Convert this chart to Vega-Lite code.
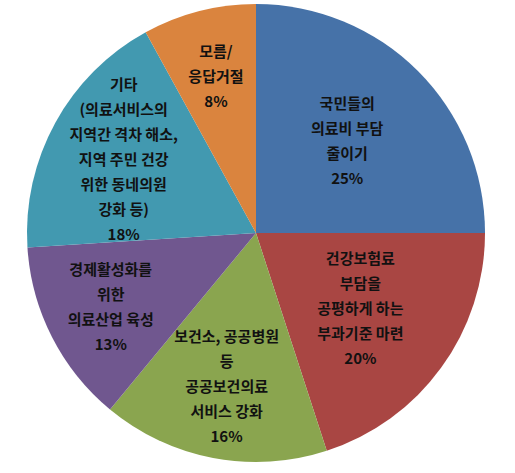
{
  "$schema": "https://vega.github.io/schema/vega-lite/v6.json",
  "width": 512,
  "height": 466,
  "padding": 0,
  "autosize": "none",
  "background": "white",
  "view": {"stroke": null},
  "config": {
    "text": {
      "lineBreak": "\n",
      "lineHeight": 25,
      "font": "Noto Sans CJK KR",
      "fontSize": 15,
      "fontWeight": "bold",
      "color": "#111111",
      "align": "center",
      "baseline": "middle"
    }
  },
  "data": {
    "values": [
      {"order": 1, "item": "국민들의 의료비 부담 줄이기", "label": "국민들의\n의료비 부담\n줄이기", "share": 25},
      {"order": 2, "item": "건강보험료 부담을 공평하게 하는 부과기준 마련", "label": "건강보험료\n부담을\n공평하게 하는\n부과기준 마련", "share": 20},
      {"order": 3, "item": "보건소, 공공병원 등 공공보건의료 서비스 강화", "label": "보건소, 공공병원\n등\n공공보건의료\n서비스 강화", "share": 16},
      {"order": 4, "item": "경제활성화를 위한 의료산업 육성", "label": "경제활성화를\n위한\n의료산업 육성", "share": 13},
      {"order": 5, "item": "기타", "label": "기타\n(의료서비스의\n지역간 격차 해소,\n지역 주민 건강\n위한 동네의원\n강화 등)", "share": 18},
      {"order": 6, "item": "모름/응답거절", "label": "모름/\n응답거절", "share": 8}
    ]
  },
  "transform": [
    {"calculate": "datum.label + '\\n' + datum.share + '%'", "as": "text"}
  ],
  "encoding": {
    "theta": {"field": "share", "type": "quantitative", "stack": true},
    "order": {"field": "order", "type": "quantitative"}
  },
  "layer": [
    {
      "mark": {"type": "arc", "outerRadius": 229},
      "encoding": {
        "color": {
          "field": "item",
          "type": "nominal",
          "scale": {
            "domain": [
              "국민들의 의료비 부담 줄이기",
              "건강보험료 부담을 공평하게 하는 부과기준 마련",
              "보건소, 공공병원 등 공공보건의료 서비스 강화",
              "경제활성화를 위한 의료산업 육성",
              "기타",
              "모름/응답거절"
            ],
            "range": ["#4672A8", "#A94643", "#8AA54F", "#70578F", "#4299B0", "#DA843E"]
          },
          "legend": null
        }
      }
    },
    {
      "mark": {"type": "text", "radius": 129, "dy": -37.5},
      "encoding": {"text": {"condition": {"test": "datum.order == 1", "field": "text"}, "value": ""}}
    },
    {
      "mark": {"type": "text", "radius": 129, "dy": -50},
      "encoding": {"text": {"condition": {"test": "datum.order == 2", "field": "text"}, "value": ""}}
    },
    {
      "mark": {"type": "text", "radius": 157, "dy": -50},
      "encoding": {"text": {"condition": {"test": "datum.order == 3", "field": "text"}, "value": ""}}
    },
    {
      "mark": {"type": "text", "radius": 163, "dy": -37.5},
      "encoding": {"text": {"condition": {"test": "datum.order == 4", "field": "text"}, "value": ""}}
    },
    {
      "mark": {"type": "text", "radius": 151, "dy": -75},
      "encoding": {"text": {"condition": {"test": "datum.order == 5", "field": "text"}, "value": ""}}
    },
    {
      "mark": {"type": "text", "radius": 161, "dy": -25},
      "encoding": {"text": {"condition": {"test": "datum.order == 6", "field": "text"}, "value": ""}}
    }
  ]
}
